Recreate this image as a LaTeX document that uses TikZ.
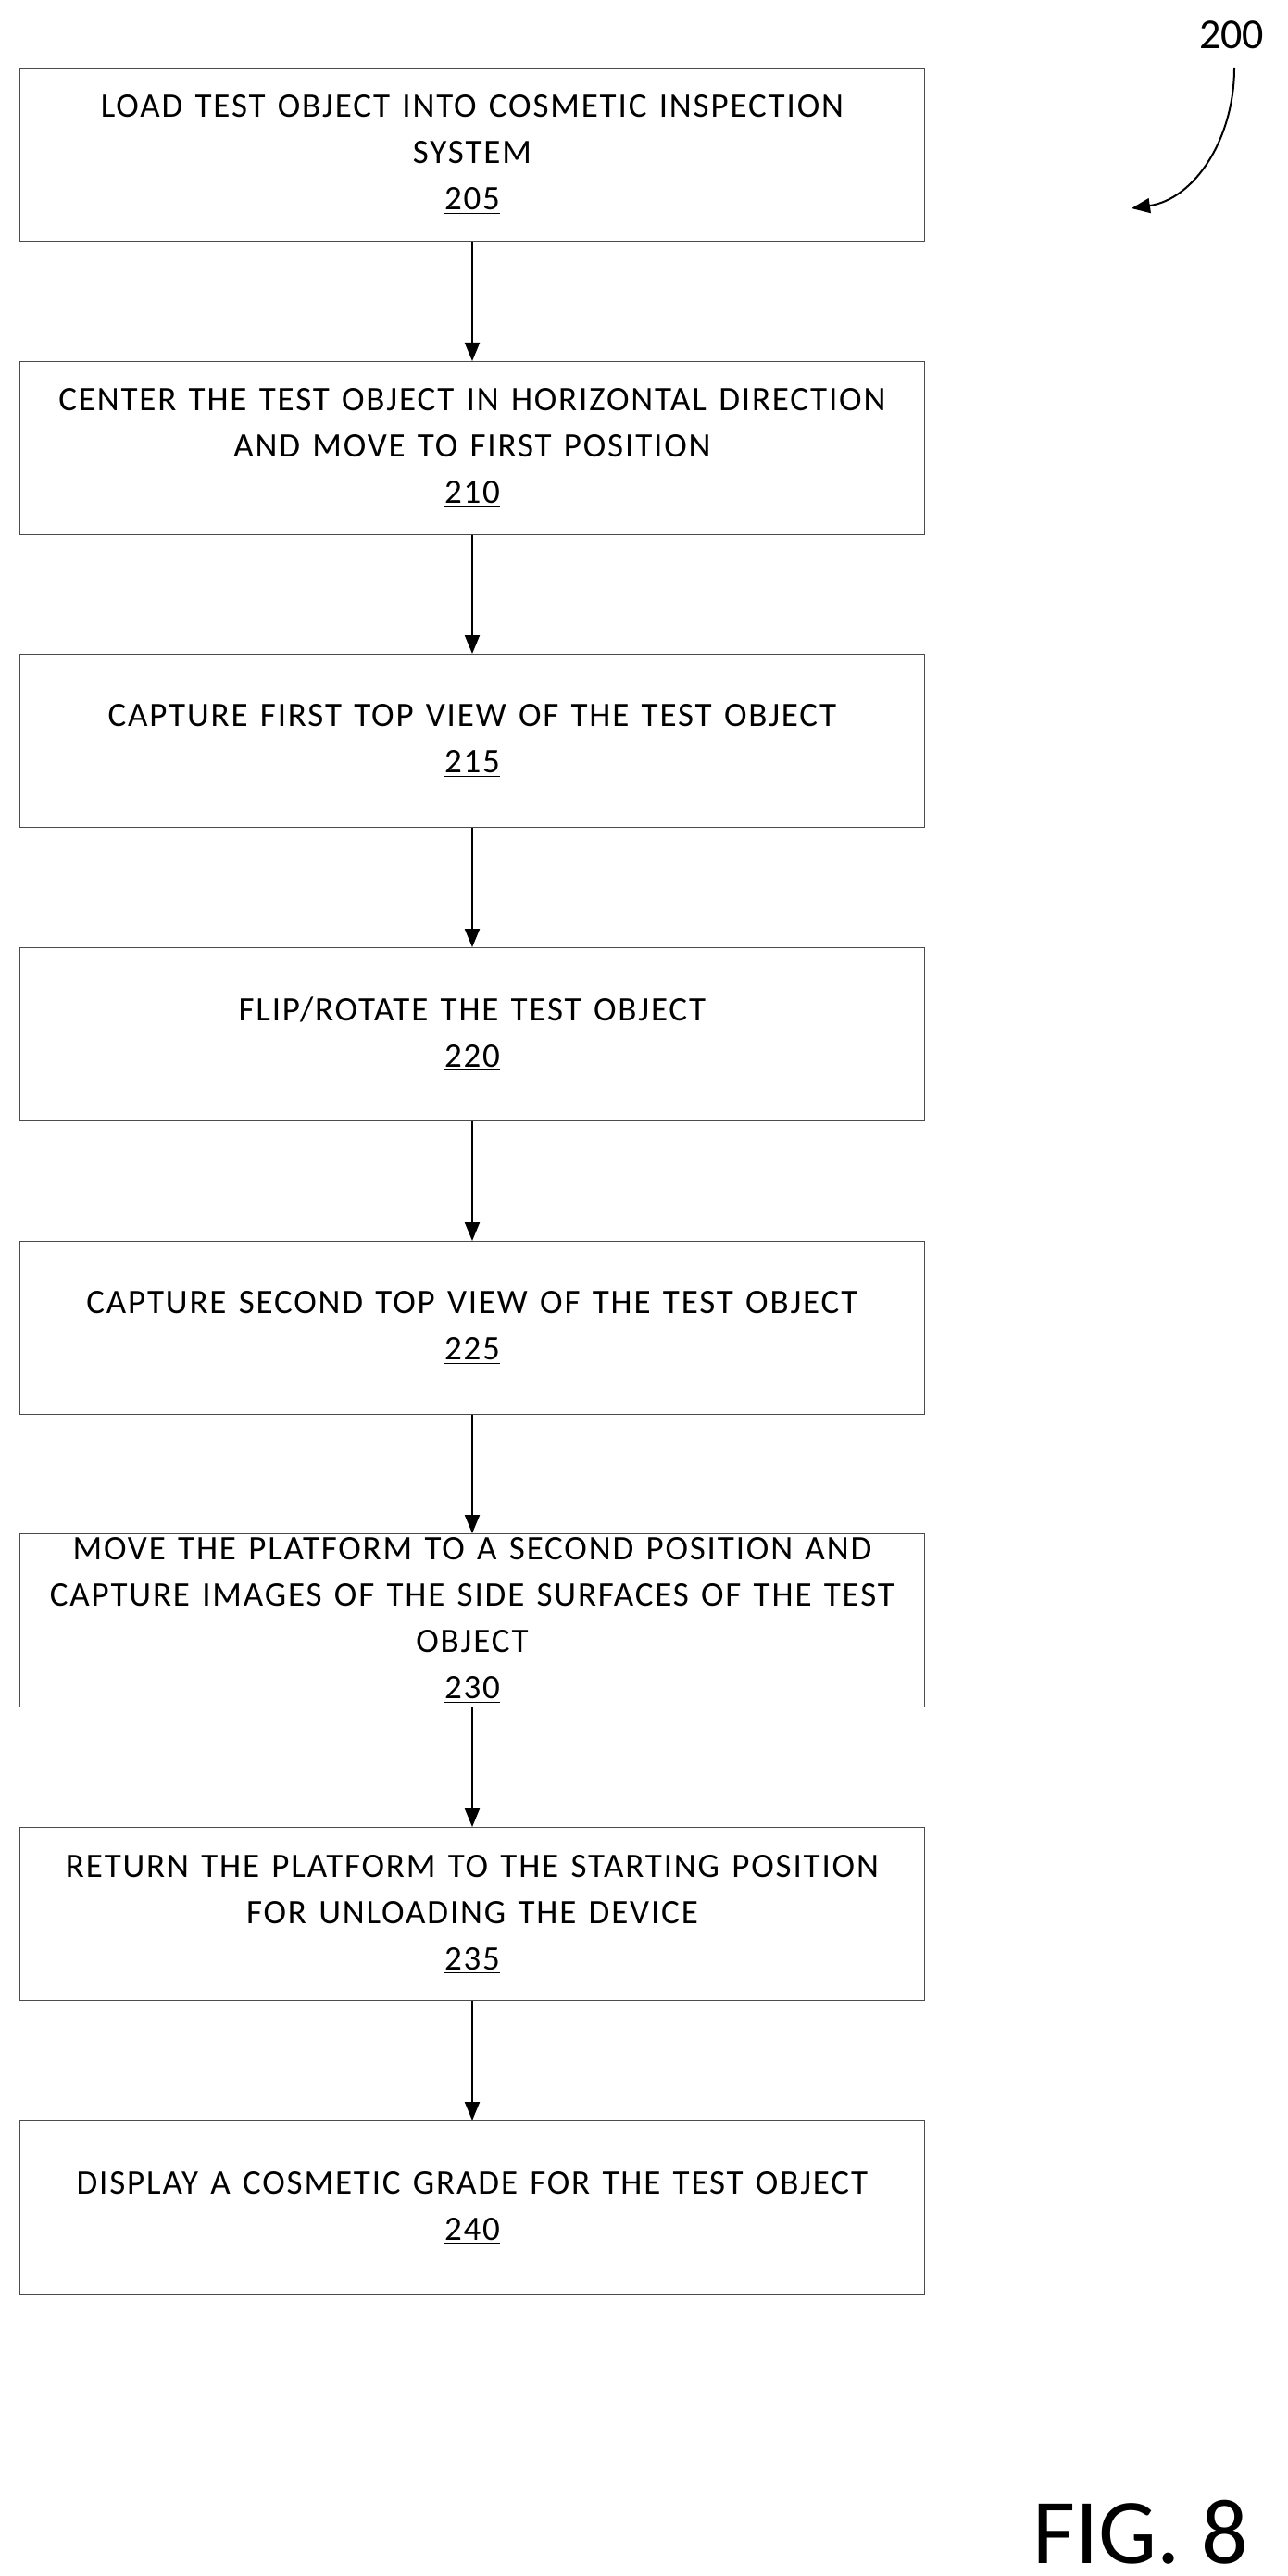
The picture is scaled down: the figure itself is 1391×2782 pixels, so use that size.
\documentclass[tikz,border=0pt]{standalone}
\usepackage{fontspec}
\setmainfont{Carlito}
\newfontfamily\boxfont[LetterSpace=5,WordSpace=1.3]{Carlito}
\usetikzlibrary{arrows.meta}
\begin{document}
\begin{tikzpicture}[x=0.5pt,y=-0.5pt,
  box/.style={draw=black!70,line width=0.6pt,minimum width=488.5pt,minimum height=93.5pt,
    align=center,font=\boxfont\fontsize{18.5}{25}\selectfont,inner sep=0pt},
  arr/.style={-{Triangle[length=10pt,width=8pt]},line width=1pt}]
\useasboundingbox (0,0) rectangle (1391,2782);
\foreach \n/\t/\y in {
 a/{LOAD TEST OBJECT INTO COSMETIC INSPECTION\\SYSTEM\\\underline{205}}/73,
 b/{CENTER THE TEST OBJECT IN HORIZONTAL DIRECTION\\AND MOVE TO FIRST POSITION\\\underline{210}}/390,
 c/{CAPTURE FIRST TOP VIEW OF THE TEST OBJECT\\\underline{215}}/706,
 d/{FLIP/ROTATE THE TEST OBJECT\\\underline{220}}/1023,
 e/{CAPTURE SECOND TOP VIEW OF THE TEST OBJECT\\\underline{225}}/1340,
 f/{MOVE THE PLATFORM TO A SECOND POSITION AND\\CAPTURE IMAGES OF THE SIDE SURFACES OF THE TEST\\OBJECT\\\underline{230}}/1656,
 g/{RETURN THE PLATFORM TO THE STARTING POSITION\\FOR UNLOADING THE DEVICE\\\underline{235}}/1973,
 h/{DISPLAY A COSMETIC GRADE FOR THE TEST OBJECT\\\underline{240}}/2290}
 \node[box,anchor=north] (\n) at (510,\y) {\t};
\foreach \p/\q in {a/b,b/c,c/d,d/e,e/f,f/g,g/h} \draw[arr] (\p) -- (\q);
\node[font=\fontsize{23}{26}\selectfont] (lbl) at (1330,38) {200};
\coordinate (s) at (1333,73);
\coordinate (t) at (1222,225);
\draw[arr] (s) .. controls (1333,150) and (1290,215) .. (t);
\node[font=\fontsize{50}{56}\selectfont] (fig) at (1232,2735) {FIG. 8};
\end{tikzpicture}
\end{document}
